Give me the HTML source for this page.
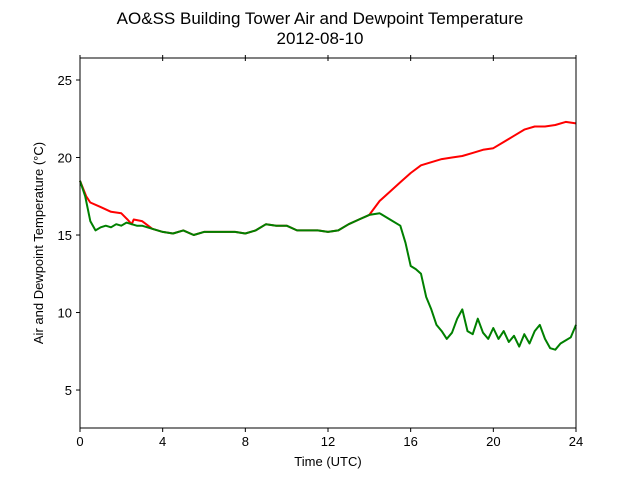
<!DOCTYPE html>
<html><head><meta charset="utf-8"><style>
body{margin:0;background:#fff;}
svg{display:block;font-family:"Liberation Sans","DejaVu Sans",sans-serif;}
</style></head><body>
<svg id="chart" width="640" height="480">
<text x="320" y="24" text-anchor="middle" font-size="17">AO&amp;SS Building Tower Air and Dewpoint Temperature</text>
<text x="320" y="44" text-anchor="middle" font-size="17">2012-08-10</text>
<text x="328" y="466" text-anchor="middle" font-size="13">Time (UTC)</text>
<text transform="translate(43,243) rotate(-90)" text-anchor="middle" font-size="13">Air and Dewpoint Temperature (°C)</text>
<g id="ticks"></g>
<g id="series"></g>
<rect x="80" y="58" width="496" height="370" fill="none" stroke="#000" stroke-width="1"/>
</svg>
<script>
const xTicks=[0,4,8,12,16,20,24];
const yTicks=[5,10,15,20,25];
const tempTimes=[0,0.3,0.5,1,1.5,2,2.3,2.5,2.6,3,3.5,4,4.5,5,5.5,6,6.5,7,7.5,8,8.5,9,9.5,10,10.5,11,11.5,12,12.5,13,13.5,14,14.5,15,15.5,16,16.5,17,17.5,18,18.5,19,19.5,20,20.5,21,21.5,22,22.5,23,23.5,24];
const tempValues=[18.5,17.5,17.1,16.8,16.5,16.4,16.0,15.7,16.0,15.9,15.4,15.2,15.1,15.3,15.0,15.2,15.2,15.2,15.2,15.1,15.3,15.7,15.6,15.6,15.3,15.3,15.3,15.2,15.3,15.7,16.0,16.3,17.2,17.8,18.4,19.0,19.5,19.7,19.9,20.0,20.1,20.3,20.5,20.6,21.0,21.4,21.8,22.0,22.0,22.1,22.3,22.2];
const dewTimes=[0,0.25,0.5,0.75,1,1.25,1.5,1.75,2,2.25,2.5,2.75,3,3.5,4,4.5,5,5.5,6,6.5,7,7.5,8,8.5,9,9.5,10,10.5,11,11.5,12,12.5,13,13.5,14,14.5,15,15.5,15.75,16,16.25,16.5,16.75,17,17.25,17.5,17.75,18,18.25,18.5,18.75,19,19.25,19.5,19.75,20,20.25,20.5,20.75,21,21.25,21.5,21.75,22,22.25,22.5,22.75,23,23.25,23.5,23.75,24];
const dewValues=[18.5,17.5,15.9,15.3,15.5,15.6,15.5,15.7,15.6,15.8,15.7,15.6,15.6,15.4,15.2,15.1,15.3,15.0,15.2,15.2,15.2,15.2,15.1,15.3,15.7,15.6,15.6,15.3,15.3,15.3,15.2,15.3,15.7,16.0,16.3,16.4,16.0,15.6,14.5,13.0,12.8,12.5,11.0,10.2,9.2,8.8,8.3,8.7,9.6,10.2,8.8,8.6,9.6,8.7,8.3,9.0,8.3,8.8,8.1,8.5,7.8,8.6,8.0,8.8,9.2,8.3,7.7,7.6,8.0,8.2,8.4,9.2];
const X0=80,X1=576,Y0=428,Y1=58,XMIN=0,XMAX=24,YMIN=2.55,YMAX=26.42;
const xs=t=>X0+(t-XMIN)/(XMAX-XMIN)*(X1-X0);
const ys=v=>Y0-(v-YMIN)/(YMAX-YMIN)*(Y0-Y1);
const NS="http://www.w3.org/2000/svg";
const tg=document.getElementById('ticks');
xTicks.forEach(t=>{
  [[Y0,Y0+4],[Y1-3,Y1+3]].forEach(([a,b])=>{
    const l=document.createElementNS(NS,'line');
    l.setAttribute('x1',xs(t));l.setAttribute('x2',xs(t));l.setAttribute('y1',a);l.setAttribute('y2',b);l.setAttribute('stroke','#000');
    
    
    tg.appendChild(l);
  });
  const tx=document.createElementNS(NS,'text');
  tx.setAttribute('x',xs(t));tx.setAttribute('y',446);tx.setAttribute('text-anchor','middle');tx.setAttribute('font-size','13');
  tx.textContent=t;
  
  
  tg.appendChild(tx);
});
yTicks.forEach(v=>{
  const l=document.createElementNS(NS,'line');
  l.setAttribute('x1',X0);l.setAttribute('x2',X0-4);l.setAttribute('y1',ys(v));l.setAttribute('y2',ys(v));l.setAttribute('stroke','#000');
  
  
  tg.appendChild(l);
  const tx=document.createElementNS(NS,'text');
  tx.setAttribute('x',72);tx.setAttribute('y',ys(v)+5);tx.setAttribute('text-anchor','end');tx.setAttribute('font-size','13');
  tx.textContent=v;
  
  
  tg.appendChild(tx);
});
const sg=document.getElementById('series');
function draw(times,vals,color,name){
  const p=document.createElementNS(NS,'polyline');
  p.setAttribute('points',times.map((t,i)=>xs(t).toFixed(1)+','+ys(vals[i]).toFixed(1)).join(' '));
  p.setAttribute('fill','none');p.setAttribute('stroke',color);p.setAttribute('stroke-width','2');p.setAttribute('stroke-linejoin','round');
  
  
  sg.appendChild(p);
}
draw(tempTimes,tempValues,'#ff0000','air-temperature-line');
draw(dewTimes,dewValues,'#008000','dewpoint-line');
</script>
</body></html>
